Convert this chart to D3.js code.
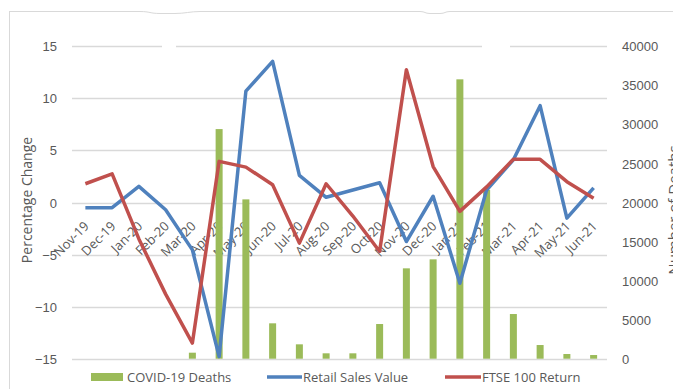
<!DOCTYPE html>
<html><head><meta charset="utf-8">
<script src="https://cdn.jsdelivr.net/npm/d3@7"></script>
<style>body{margin:0;background:#fff}svg{display:block}</style>
</head><body>
<script>
const months = ["Nov-19","Dec-19","Jan-20","Feb-20","Mar-20","Apr-20","May-20","Jun-20","Jul-20","Aug-20","Sep-20","Oct-20","Nov-20","Dec-20","Jan-21","Feb-21","Mar-21","Apr-21","May-21","Jun-21"];
const deaths = [0,0,0,0,770,29400,20400,4530,1840,690,690,4440,11570,12720,35770,21600,5720,1750,600,470];
const retail = [-0.5,-0.5,1.55,-0.7,-4.55,-14.8,10.7,13.55,2.6,0.5,1.2,1.9,-3.75,0.6,-7.75,1.2,4.1,9.3,-1.5,1.4];
const ftse = [1.8,2.75,-3.5,-8.8,-13.5,3.95,3.4,1.7,-3.9,1.8,-1.3,-4.7,12.75,3.45,-0.85,1.5,4.15,4.15,2.0,0.4];
const leftTicks = [-15,-10,-5,0,5,10,15];
const rightTicks = [0,5000,10000,15000,20000,25000,30000,35000,40000];

const W=673,H=389;
const svg=d3.select("body").append("svg").attr("width",W).attr("height",H)
  .style("font-family","'Open Sans', sans-serif");
const x=d3.scaleBand().domain(months).range([72,607]);
const yL=d3.scaleLinear().domain([-15,15]).range([358.7,46.3]);
const yR=d3.scaleLinear().domain([0,40000]).range([358.7,46.3]);
const grey="#595959";

// border
svg.append("line").attr("x1",9.5).attr("x2",9.5).attr("y1",11).attr("y2",H).attr("stroke","#d9d9d9");
svg.append("path").attr("d","M9,11.5H140C150,11.5 150,13.5 160,13.5H175C185,13.5 190,11.5 200,11.5H420C425,11.5 425,13.5 430,13.5H440C445,13.5 445,11.5 450,11.5H673")
  .attr("fill","none").attr("stroke","#d9d9d9");

// gridlines
svg.append("g").selectAll("line").data(leftTicks).join("line")
  .attr("x1",72).attr("x2",607).attr("y1",d=>Math.round(yL(d))+0.5).attr("y2",d=>Math.round(yL(d))+0.5)
  .attr("stroke","#d9d9d9").attr("stroke-width",1.3);
// small breaks in the top gridline seen in the reference
svg.append("rect").attr("x",162).attr("y",44).attr("width",14).attr("height",5).attr("fill","#fff");
svg.append("rect").attr("x",482).attr("y",44).attr("width",28).attr("height",5).attr("fill","#fff");

// left axis
const gl=svg.append("g").attr("transform","translate(57,0)")
  .call(d3.axisLeft(yL).tickValues(leftTicks).tickSize(0).tickPadding(0).tickFormat(d3.format("d")));
gl.select(".domain").remove();
gl.selectAll("text").attr("fill",grey).attr("font-size",13).attr("dy","0.35em");

// right axis
const gr=svg.append("g").attr("transform","translate(622,0)")
  .call(d3.axisRight(yR).tickValues(rightTicks).tickSize(0).tickPadding(0).tickFormat(d3.format("d")));
gr.select(".domain").remove();
gr.selectAll("text").attr("fill",grey).attr("font-size",13).attr("dy","0.35em");

// axis titles
svg.append("text").attr("transform","translate(32,200) rotate(-90)").attr("text-anchor","middle")
  .attr("fill",grey).attr("font-size",14).text("Percentage Change");
svg.append("text").attr("transform","translate(679,210) rotate(-90)").attr("text-anchor","middle")
  .attr("fill",grey).attr("font-size",15).text("Number of Deaths");

// x labels at zero line
svg.append("g").selectAll("text").data(months).join("text")
  .attr("transform",d=>`translate(${x(d)+x.bandwidth()/2-2},${yL(0)+18}) rotate(-45)`)
  .attr("text-anchor","end").attr("dy","0.7em").attr("fill",grey).attr("font-size",13).text(d=>d);

// bars
const bw=7;
svg.append("g").selectAll("rect").data(months).join("rect")
  .attr("x",(d,i)=>x(d)+x.bandwidth()/2-bw/2).attr("width",bw)
  .attr("y",(d,i)=>yR(deaths[i])).attr("height",(d,i)=>yR(0)-yR(deaths[i]))
  .attr("fill","#9BBB59");

const line=vals=>d3.line().x((d,i)=>x(months[i])+x.bandwidth()/2).y(d=>yL(d))(vals);
svg.append("path").attr("d",line(retail)).attr("fill","none").attr("stroke","#4F81BD").attr("stroke-width",3.5).attr("stroke-linejoin","round");
svg.append("path").attr("d",line(ftse)).attr("fill","none").attr("stroke","#C0504D").attr("stroke-width",3.5).attr("stroke-linejoin","round");

// legend
const ly=377;
const lg=svg.append("g");
lg.append("rect").attr("x",91).attr("y",ly-4).attr("width",32).attr("height",8).attr("fill","#9BBB59");
lg.append("text").attr("x",127).attr("y",ly).attr("dy","0.35em").attr("fill",grey).attr("font-size",13).text("COVID-19 Deaths");
lg.append("line").attr("x1",267).attr("x2",302).attr("y1",ly).attr("y2",ly).attr("stroke","#4F81BD").attr("stroke-width",3.5);
lg.append("text").attr("x",303).attr("y",ly).attr("dy","0.35em").attr("fill",grey).attr("font-size",13).text("Retail Sales Value");
lg.append("line").attr("x1",445).attr("x2",481).attr("y1",ly).attr("y2",ly).attr("stroke","#C0504D").attr("stroke-width",3.5);
lg.append("text").attr("x",482).attr("y",ly).attr("dy","0.35em").attr("fill",grey).attr("font-size",13).text("FTSE 100 Return");
</script>
</body></html>
